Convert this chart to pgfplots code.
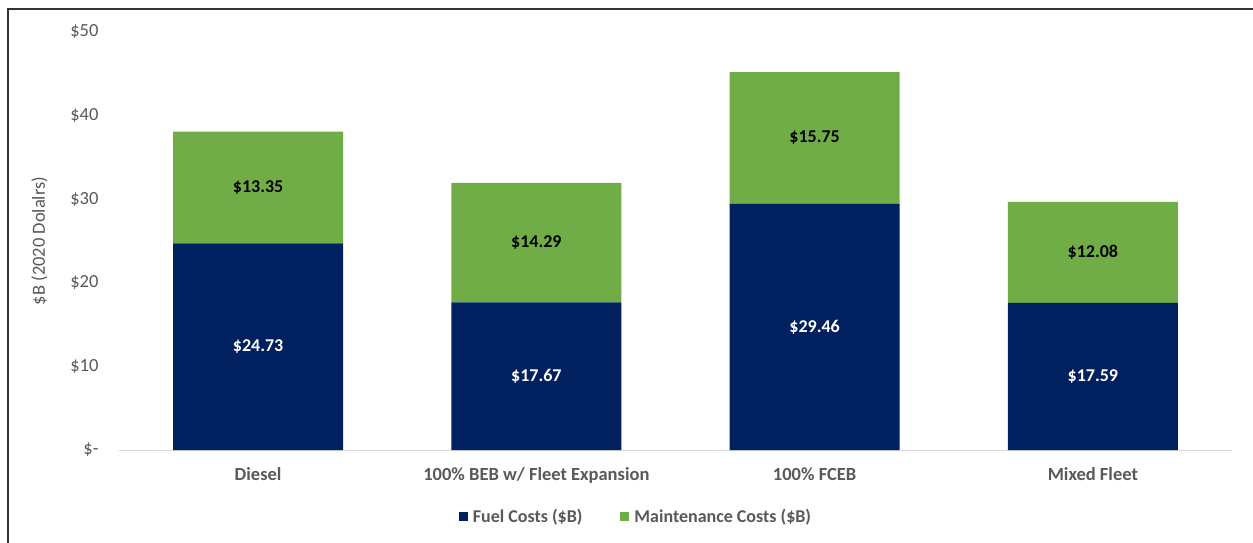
\documentclass[border=0pt]{standalone}
\usepackage{pgfplots}
\usepackage{pgfplotstable}
\pgfplotsset{compat=1.18}
\usepackage{fontspec}
\setmainfont{Carlito}
\definecolor{navy}{RGB}{0,32,96}
\definecolor{mgreen}{RGB}{112,173,71}
\definecolor{tgray}{RGB}{89,89,89}
\definecolor{lgray}{RGB}{217,217,217}
\pgfplotstableread{
x fuel maint
0 24.73 13.35
1 17.67 14.29
2 29.46 15.75
3 17.59 12.08
}\data
\newcommand{\fs}{\fontsize{18.5}{22}\selectfont}
\newcommand{\fl}{\fontsize{18}{21}\selectfont}
\begin{document}
\begin{tikzpicture}[x=1pt,y=1pt]
\useasboundingbox (0,0) rectangle (1253,542);
\fill[white] (0,0) rectangle (1253,542);
\draw[line width=2pt, black!80] (7.5,-20) -- (7.5,533) -- (1270,533);
\begin{axis}[
  at={(119pt,92pt)}, anchor=south west,
  scale only axis, width=1113pt, height=418pt,
  xmin=-0.5, xmax=3.5, ymin=0, ymax=50,
  ybar stacked, bar width=170pt,
  axis x line*=bottom, axis y line*=left,
  x axis line style={lgray, line width=1pt, -},
  y axis line style={draw=none},
  xtick=data, xticklabels={Diesel,100\% BEB w/ Fleet Expansion,100\% FCEB,Mixed Fleet},
  major tick length=0pt,
  xticklabel style={font=\fs\bfseries, text=tgray, yshift=-14pt},
  ytick={0,10,20,30,40,50},
  yticklabels={\$-,\$10,\$20,\$30,\$40,\$50},
  yticklabel style={font=\fs, text=tgray, anchor=east, xshift=-17pt},
  ylabel={\$B (2020 Dolalrs)},
  every axis y label/.style={at={(axis description cs:-0.0715,0.5)}, rotate=90, anchor=center, font=\fs, text=tgray},
  legend style={at={(0.4645,-0.16)}, anchor=center, draw=none, fill=none,
    font=\fl\bfseries, text=tgray, legend columns=2,
    /tikz/every even column/.append style={column sep=36pt},
    /tikz/every odd column/.append style={column sep=3pt}},
  legend cell align=left,
  legend image code/.code={\fill[#1] (0pt,-4.5pt) rectangle (9pt,4.5pt);},
  nodes near coords={\$\pgfmathprintnumber[fixed,precision=2,fixed zerofill,assume math mode=true]{\pgfplotspointmeta}},
  nodes near coords style={font=\fl\bfseries},
  point meta=explicit,
  clip=false,
]
\addplot+[fill=navy, draw=none, nodes near coords style={text=white, anchor=center}]
  table[x=x, y=fuel, meta=fuel] \data;
\addplot+[fill=mgreen, draw=none, nodes near coords style={text=black, anchor=center}]
  table[x=x, y=maint, meta=maint] \data;
\legend{Fuel Costs (\$B),Maintenance Costs (\$B)}
\end{axis}
\end{tikzpicture}
\end{document}
